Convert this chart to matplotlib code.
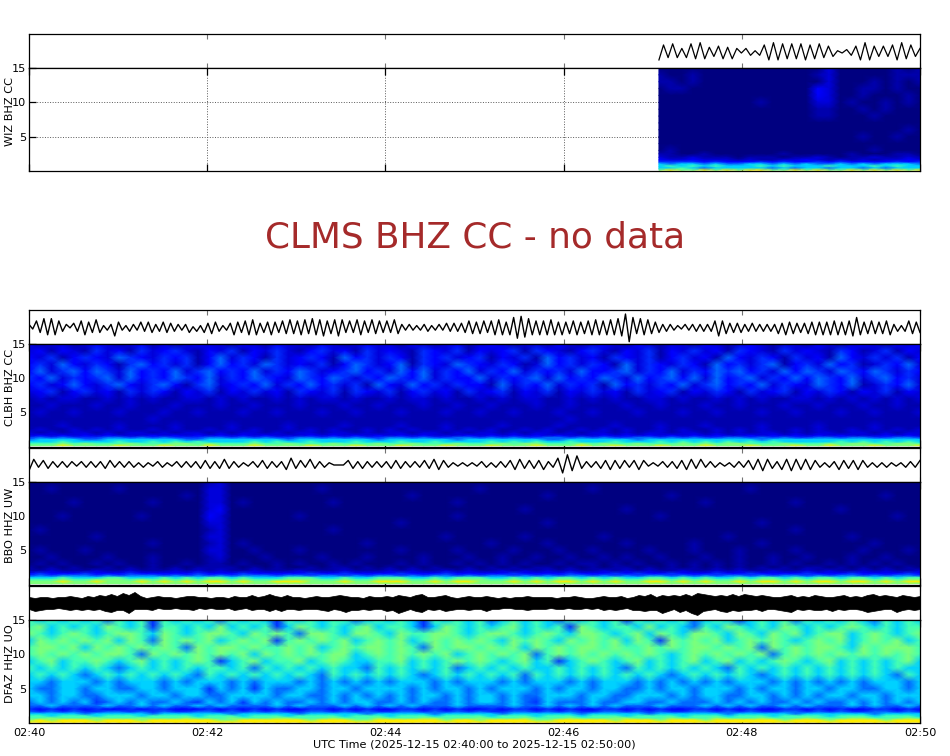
import numpy as np
import matplotlib
matplotlib.use("Agg")
import matplotlib.pyplot as plt

SPAN_SECONDS = 600
TICK_SECONDS = [0, 120, 240, 360, 480, 600]
TICK_LABELS = ["02:40", "02:42", "02:44", "02:46", "02:48", "02:50"]
FREQ_TICKS = [5, 10, 15]
XLABEL = "UTC Time (2025-12-15 02:40:00 to 2025-12-15 02:50:00)"
NO_DATA_TEXT = "CLMS BHZ CC - no data"
WIZ_START = 424.2

FREQS = [15, 14, 13, 12, 11, 10, 9, 8, 7, 6, 5, 4, 3, 2.5, 2, 1.6, 1.3, 1, 0.7, 0.4, 0.12]
LEVELS = [0.0, 0.04, 0.08, 0.12, 0.17, 0.23, 0.33, 0.43, 0.5, 0.66]

WIZ_TRACE = [-7,6,-5,7,-5,3,-5,7,-6,8,-6,4,-4,5,-6,4,-6,3,-1,3,-3,1,-3,6,-7,8,-7,7,-6,
             7,-6,7,-7,6,-6,7,-5,5,-4,1,-1,2,-3,5,-7,8,-7,5,-4,5,-4,6,-7,8,-6,6,-4,3]
CLBH_TRACE = [3,-1,6,-4,8,-6,8,-6,6,-3,3,0,4,-3,6,-6,5,-4,7,-4,
              2,-2,3,-7,5,-2,2,-3,3,-2,5,-3,5,-4,3,-3,5,-4,4,-3,
              3,-2,3,-4,1,-3,2,-4,4,-5,5,-3,2,-2,4,-6,5,-4,6,-6,
              7,-6,4,-4,5,-6,5,-4,6,-5,7,-5,6,-6,7,-5,8,-6,7,-7,
              6,-5,7,-7,7,-4,6,-4,7,-6,6,-4,7,-5,6,-4,6,-4,7,-5,
              3,-2,3,-2,2,-2,3,-3,2,-2,3,-2,4,-3,4,-3,4,-4,6,-5,
              5,-5,6,-4,6,-6,7,-6,5,-6,9,-9,10,-8,8,-6,6,-6,6,-6,
              7,-6,5,-6,5,-5,6,-6,5,-5,6,-6,7,-6,6,-6,7,-6,8,-7,
              12,-12,9,-5,8,-6,7,-5,5,-4,3,-3,3,-2,2,-1,3,-2,3,-3,
              3,-3,3,-3,6,-7,6,-5,4,-4,4,-4,3,-3,4,-3,3,-3,3,-3,
              3,-5,4,-6,5,-5,4,-4,4,-5,5,-6,5,-6,5,-6,6,-6,5,-6,
              6,-7,9,-6,5,-5,6,-5,5,-5,6,-6,3,-3,2,-3,6,-5,5,-4]
BBO_TRACE = [-5,5,-2,4,-3,3,-2,3,-2,3,-1,3,-2,3,-2,3,-3,4,-2,3,
             -2,3,-2,2,-2,2,-1,3,-2,2,-1,3,-2,3,-2,3,-3,4,-3,3,
             -3,5,-3,3,-2,2,-1,3,-2,4,-3,3,-2,3,-4,6,-3,4,-2,5,
             -3,3,-2,2,0,0,0,4,-3,3,-3,3,-2,3,-2,3,-3,4,-3,3,
             -2,3,-2,4,-3,5,-4,4,-2,2,-1,2,-1,2,-1,3,-2,2,-2,3,
             -2,4,-4,5,-3,4,-3,4,-4,3,-2,6,-7,9,-5,8,-3,3,-2,3,
             -3,4,-4,4,-3,4,-2,4,-4,4,-1,2,-1,3,-2,3,-3,4,-4,5,
             -3,5,-2,3,-2,2,-1,2,-2,3,-2,4,-4,5,-5,5,-3,3,-4,5,
             -5,5,-4,5,-4,4,-2,2,-2,3,-4,4,-3,4,-4,4,-2,2,-2,2,
             -2,2,-1,2,-2,3,-2,4]
DFAZ_UPPER = [6,5,6,6,5,6,6,7,6,5,7,6,8,7,9,7,10,8,11,7,5,6,7,6,6,5,6,7,7,6,6,5,6,6,5,7,6,6,8,6,7,9,7,6,8,6,6,5,6,7,6,6,7,8,7,6,6,5,7,6,6,7,6,8,7,6,8,9,6,6,7,8,6,5,6,7,6,6,7,6,5,6,5,6,6,7,6,6,
              6,6,5,6,6,7,6,5,5,6,7,6,6,7,5,6,8,7,9,6,8,7,8,7,9,7,10,9,8,7,8,7,9,7,9,8,7,8,7,6,6,7,8,6,7,6,8,7,6,6,7,8,6,7,6,8,9,7,8,7,6,8,7,6,7]
DFAZ_LOWER = [6,8,7,6,6,5,6,7,6,7,6,7,6,8,9,7,7,10,6,6,6,7,5,6,6,5,6,6,7,5,6,5,6,6,5,7,6,5,7,6,6,8,6,8,6,6,7,6,6,6,7,8,6,7,9,7,7,6,7,6,6,8,7,10,8,6,8,9,6,7,6,8,7,6,6,7,6,6,8,6,6,5,5,6,6,7,6,6,
              6,5,6,6,5,6,6,5,6,5,7,6,7,6,5,7,7,8,7,7,10,8,6,9,7,10,12,8,7,6,8,9,7,8,7,7,6,8,6,6,7,8,9,6,7,6,7,7,6,8,6,7,6,6,7,9,8,7,6,6,9,7,6,7,6]

WIZ_ROWS = [
"000000000000000200000101",
"100100000000001200000111",
"110100000000000200010101",
"011000000000003200110100",
"000000000000003200100010",
"000000000100002201001010",
"000000000000001100101000",
"000000000000001100010000",
"000000000000000000000000",
"000000000000000000000010",
"000000000000000000100100",
"000000000000000000000000",
"010000000000000000010000",
"110010000001000001000110",
"211211101110112101121121",
"322322212112232121212232",
"444434333434334343333434",
"656656556656565565656665",
"676767666767666766676766",
"667656666656566566565666",
"898898989988989889898989",
]
CLBH_ROWS = [
"21221232123121232213213221321232213212312321221321232132122132123212213212321323",
"23132142314234213241324213423142321432413234143213421324132423143214232143124132",
"32413432543243413524314234315342431434234132415342314324134231532431423153242413",
"34253243145342413534254232413542351432543243125342431524324315342451342534124352",
"35245354253435245343524354234534253524352435243425334524352435453425354254354243",
"43524345253435435243543254354243543524335243452534354253453525345243535435245342",
"34235324532453145234352435342415325342433152435243415342435245343524325435124352",
"23413423142431324132423143241432413423142341324132423142341324314234132431324132",
"12122112121211221212112121221211212212112121221121212112212112121211221212121212",
"11211121121112111211211121112112111211211211121121111211211121121112112111211211",
"12112111211121121112112111211211121112112112111211211121112112111211211121121112",
"11111111111211111111111111111111111111111111111121111111111111111111111111111111",
"11121111211112111121111211112111121112111121111211112111211121111211112111121111",
"12112121211212112121211212121121212112121211212112121211212112121211212112121212",
"21212212122121221212212122122121221221212212122121221212212212121221212212212122",
"23232323222323232323232223232323232322232323232322232323232323223232323232223232",
"45454445545454445545454455454544554544554545445545454455454544554545445545544554",
"56666556666666556666666566666665666666566666665566666656666666666566666666666666",
"66676666766767676666767667666766676676666767676676667666767676767676666676767676",
"77787877787778878777877877787778778777877787887778787787778787887778777878877887",
"88898888988898889888988889888988898889888988898889889888988898889888988988898889",
]
BBO_ROWS = [
"00000000000000001200000000000000000000000000000000000000000000000000000000000000",
"00100000100000002200000000100000000000001000000000100000000000001000000000000000",
"00000000000000102200000000000000001000000000001000000000010000000000000000001000",
"00001000000100002201000000010000000000100000000000000000000010000000100000000000",
"00000000000000002300000000000000000000000000100000000100000000000000000010000000",
"00010000001000003200000010000000000000100000000000000000100000000000000000000100",
"00000000000000002200000000000000010000000000001000000000000000000100000000000000",
"01000000000000001200000000010000000000000000000000000000000000000000100000000000",
"00000010000000002200000000000000000001000000100000010000000000100000000001000000",
"00000000000100001201000000000010000000000100001000000100000100000100000000010000",
"01000100000000002200100010000000010000100001000100100001000100010000100000100010",
"00100001000100001200010000100010000100010010010010010100100010010010010001001000",
"01010010100100101101001010010100010100101010100101101010010101010010100101010100",
"10101001010101011110101001011010101010010101011010101101010101010101011010101010",
"11211121121112121211211121112111212112121121212121121212112112121121121211212112",
"34333433343333343334333334334333343334333334333343334343343334334333343334333343",
"45455545455545454545554554554545545455454554545455454545545454554545545455454554",
"66676667766676767767666777667667776676777667676776767667767676676776767767767677",
"77787788878787878878777888778778887787888778787887878778878787787887878878878788",
"88898898889898989989889998889889998898998889898998989889989898898998989989989899",
"88888888888888888888888888888888888888888888888888888888888888888888888888888888",
]
DFAZ_ROWS = [
"76767675767476767576764767677567676476767567676576767476767567646767576767657676",
"78676768767477676867674687676786776468767678676748767768676576876768767678767677",
"87678767887687678876878758876887687788767887678768876786876887687687867886787678",
"68787878687587878678784787878678786787878768787687878687487878678787678786787867",
"78878687878787587887877878678788787587887878687878878778787887878587878876878887",
"78787878875878787878687878788678787878678787857878787878767878787857878787878787",
"67867787678676787467867786787667786767878767867467876786767867867678767867676786",
"76767676567676767767576767676657676767567676766767676576767676576767676767676766",
"67676567676767657676767676576767676567676767576767676767656767676567676767676576",
"66566656566656566656566656565656566656566656566656566656565656566656565656566656",
"65566566556656664656465566566566665656656566656566566556566566656566566566556656",
"66566556665665665566665665565656565665656656556665665566656566556656565665665666",
"56565645656556546564656556565665565655656656546555655665565556565655656556565656",
"55655556556565565655556565556565656555655556556565656555655565656556565556565565",
"43434343343443334343434334434343344343433434434343344343433443434334434343344343",
"54545445545454455454545445545454455454545445545454455454544554545445545454455454",
"66666566666566666656666656666656666656666656666665666665666666566666566666656666",
"77677767776777767776777677776777677767777677767776777677776777677767777677767776",
"77877787778777877787778877787778777887778777877787778877787778777877787778877787",
"89899989998999999889999998999889999998998999988999998999899989999998999899998999",
"99999999999999999999999999999999999999999999999999999999999999999999999999999999",
]

plt.rcParams["font.family"] = "DejaVu Sans"
plt.rcParams["font.size"] = 8.1
W, H = 950, 756
fig = plt.figure(figsize=(W / 100, H / 100), dpi=100)
LEFT, RIGHT = 29, 920


def make_axes(top, bottom):
    return fig.add_axes([LEFT / W, 1 - bottom / H, (RIGHT - LEFT) / W, (bottom - top) / H])


def trace_panel(top, bottom, ylim):
    ax = make_axes(top, bottom)
    ax.set_xlim(0, SPAN_SECONDS)
    ax.set_ylim(*ylim)
    ax.set_yticks([])
    ax.set_xticks(TICK_SECONDS)
    ax.tick_params(axis="x", direction="in", top=True, bottom=True, length=3.5,
                   color="0.45", width=0.8, labelbottom=False)
    for s in ax.spines.values():
        s.set_linewidth(0.9)
    return ax


def spec_panel(top, bottom, rows, x0, name, labelled=False):
    ax = make_axes(top, bottom)
    n = min(len(r) for r in rows)
    grid = np.array([[LEVELS[int(c)] for c in r[:n]] for r in rows])
    x = np.linspace(x0, SPAN_SECONDS, n)
    ax.pcolormesh(x, FREQS, grid, cmap="jet", vmin=0, vmax=1, shading="gouraud",
                  rasterized=True)
    ax.set_xlim(0, SPAN_SECONDS)
    ax.set_ylim(0, 15)
    ax.set_yticks(FREQ_TICKS)
    ax.set_xticks(TICK_SECONDS)
    ax.set_xticklabels(TICK_LABELS if labelled else [""] * len(TICK_LABELS))
    ax.set_axisbelow(True)
    ax.grid(True, linestyle=":", linewidth=0.7, color="0.35")
    ax.tick_params(axis="both", direction="in", length=5, width=0.9, labelsize=8.1)
    ax.tick_params(axis="y", pad=2)
    ax.tick_params(axis="x", top=True, bottom=True, pad=3.5)
    ax.set_ylabel(name, fontsize=8.1)
    ax.yaxis.set_label_coords((15 - LEFT) / (RIGHT - LEFT), 0.575)
    for s in ax.spines.values():
        s.set_linewidth(0.9)
    return ax


# WIZ
ax = trace_panel(34, 68, (-14, 15.5))
ax.plot(np.linspace(WIZ_START, SPAN_SECONDS, len(WIZ_TRACE)), WIZ_TRACE, color="k", lw=0.9)
spec_panel(68, 171, WIZ_ROWS, WIZ_START, "WIZ BHZ CC")

fig.text(475 / W, 1 - 238 / H, NO_DATA_TEXT, color="brown", fontsize=25.8, ha="center", va="center")

# CLBH
ax = trace_panel(310, 344, (-14, 15.5))
ax.plot(np.linspace(0, SPAN_SECONDS, len(CLBH_TRACE)), CLBH_TRACE, color="k", lw=1.0)
spec_panel(344, 446.5, CLBH_ROWS, 0, "CLBH BHZ CC")

# BBO
ax = trace_panel(448, 482, (-15, 15))
ax.plot(np.linspace(0, SPAN_SECONDS, len(BBO_TRACE)), BBO_TRACE, color="k", lw=1.0)
spec_panel(482, 584.5, BBO_ROWS, 0, "BBO HHZ UW")

# DFAZ
ax = trace_panel(586, 620, (-17, 17))
n_env = min(len(DFAZ_UPPER), len(DFAZ_LOWER))
t_env = np.linspace(0, SPAN_SECONDS, n_env)
ax.fill_between(t_env, -np.array(DFAZ_LOWER[:n_env]), np.array(DFAZ_UPPER[:n_env]),
                color="k", lw=0.5)
ax = spec_panel(620, 723, DFAZ_ROWS, 0, "DFAZ HHZ UO", labelled=True)
ax.set_xlabel(XLABEL, fontsize=8.1, labelpad=1)

fig.savefig("out.png", dpi=100)
